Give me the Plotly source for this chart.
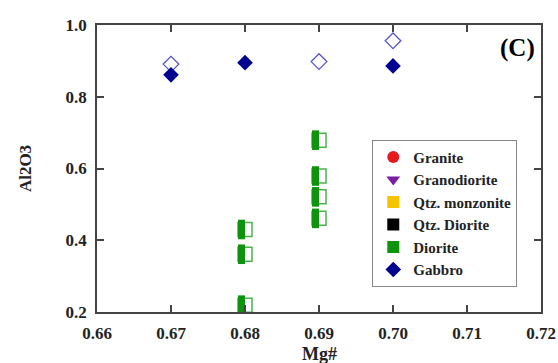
import plotly.graph_objects as go

# Data
gabbro_x = [0.67, 0.68, 0.70]
gabbro_y = [0.861, 0.895, 0.886]
gabbro_open_x = [0.67, 0.69, 0.70]
gabbro_open_y = [0.891, 0.898, 0.956]
diorite_x = [0.69, 0.69, 0.69, 0.69, 0.68, 0.68, 0.68]
diorite_y = [0.679, 0.579, 0.521, 0.461, 0.430, 0.361, 0.219]

x_ticks = [0.66, 0.67, 0.68, 0.69, 0.70, 0.71, 0.72]
x_ticklabels = ["0.66", "0.67", "0.68", "0.69", "0.70", "0.71", "0.72"]
y_ticks = [0.2, 0.4, 0.6, 0.8, 1.0]
y_ticklabels = ["0.2", "0.4", "0.6", "0.8", "1.0"]

X_RANGE = [0.66, 0.72]
PLOT_W = 558 - 97 - 17
HALF_SHIFT = 3.5 / PLOT_W * (X_RANGE[1] - X_RANGE[0])  # shifts fill half a marker left

serif = "Liberation Serif"
GREEN = "#0f930f"
fig = go.Figure()

# legend-only entries
legend_items = [
    ("Granite", "circle", "#e41a1c"),
    ("Granodiorite", "triangle-down", "#7a1fa2"),
    ("Qtz. monzonite", "square", "#f5c400"),
    ("Qtz. Diorite", "square", "#000000"),
]
for name, sym, col in legend_items:
    fig.add_trace(go.Scatter(x=[None], y=[None], mode="markers", name="<b>" + name + "</b>",
                             marker=dict(symbol=sym, color=col, size=13)))

# Diorite: half-filled squares (outline square + left-half fill)
fig.add_trace(go.Scatter(x=diorite_x, y=diorite_y, mode="markers", showlegend=False,
                         marker=dict(symbol="square", color="white", size=14,
                                     line=dict(color="#4fb04f", width=1.5))))
fig.add_trace(go.Scatter(x=diorite_x, y=diorite_y, mode="markers", showlegend=False,
                         xaxis="x2", hoverinfo="skip",
                         marker=dict(symbol="line-ns", size=14, color=GREEN,
                                     line=dict(color=GREEN, width=7))))
fig.add_trace(go.Scatter(x=[None], y=[None], mode="markers", name="<b>Diorite</b>",
                         marker=dict(symbol="square", color=GREEN, size=13)))

# Gabbro
fig.add_trace(go.Scatter(x=gabbro_open_x, y=gabbro_open_y, mode="markers", showlegend=False,
                         marker=dict(symbol="diamond-open", color="#5555cc", size=12,
                                     line=dict(width=1.3))))
fig.add_trace(go.Scatter(x=gabbro_x, y=gabbro_y, mode="markers", name="<b>Gabbro</b>",
                         marker=dict(symbol="diamond", color="#000090", size=12)))

axis_common = dict(showline=True, linecolor="#444", linewidth=1.5, mirror="ticks",
                   ticks="inside", ticklen=7, tickcolor="#444", tickwidth=1.5,
                   showgrid=False, zeroline=False,
                   tickfont=dict(family=serif, size=17, color="#222"))

fig.update_layout(
    width=558, height=363,
    margin=dict(l=97, r=17, t=25, b=51),
    paper_bgcolor="white", plot_bgcolor="white",
    xaxis=dict(range=X_RANGE, tickvals=x_ticks, automargin=False, ticklabelstandoff=5,
               ticktext=["<b>" + t + "</b>" for t in x_ticklabels],
               **axis_common),
    xaxis2=dict(range=[X_RANGE[0] + HALF_SHIFT, X_RANGE[1] + HALF_SHIFT],
                overlaying="x", visible=False),
    yaxis=dict(range=[0.2, 1.0], tickvals=y_ticks, ticklabelstandoff=5,
               ticktext=["<b>" + t + "</b>" for t in y_ticklabels],
               title=dict(text="<b>Al2O3</b>", font=dict(family=serif, size=17, color="#222"), standoff=30),
               **axis_common),
    legend=dict(x=0.62, y=0.6, xanchor="left", yanchor="top",
                bgcolor="white", bordercolor="#888", borderwidth=1,
                font=dict(family=serif, size=15, color="#222"),
                itemsizing="constant", tracegroupgap=0),
    annotations=[
        dict(text="<b>(C)</b>", x=0.99, y=0.975, xref="paper", yref="paper",
             xanchor="right", yanchor="top", showarrow=False,
             font=dict(family=serif, size=25, color="black")),
        dict(text="<b>Mg#</b>", x=0.5, y=-0.145, xref="paper", yref="paper",
             xanchor="center", yanchor="middle", showarrow=False,
             font=dict(family=serif, size=18, color="#222")),
    ],
    font=dict(family=serif),
)

fig.write_html("out.html")
